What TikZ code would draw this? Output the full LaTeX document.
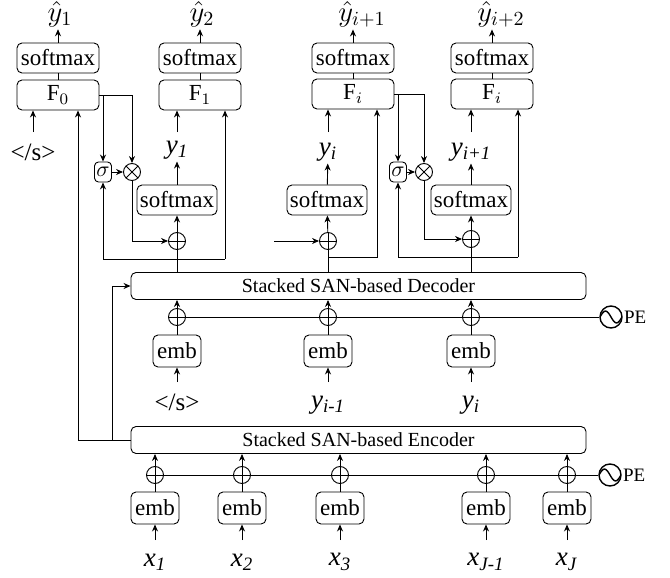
\documentclass[tikz,border=0pt]{standalone}
\usepackage{fontspec}
\setmainfont{Liberation Serif}
\usetikzlibrary{arrows.meta, calc, positioning}

\newcommand{\isub}[2]{\textit{#1}\textsubscript{\textit{#2}}}

\begin{document}
\begin{tikzpicture}[x=0.5pt, y=-0.5pt, line width=0.45pt, >={Stealth[length=3.5pt,width=3pt]},
  box/.style={draw, rounded corners=2.5pt, inner sep=0pt, font=\fontsize{11.5}{12}\selectfont},
  fbox/.style={box, minimum width=41pt, minimum height=15pt},
  sbox/.style={box, minimum width=40pt, minimum height=15pt},
  ebox/.style={box, minimum width=24pt, minimum height=16pt},
  gbox/.style={draw, rounded corners=2pt, inner sep=0pt, minimum width=8.5pt, minimum height=10pt, font=\fontsize{11}{12}\selectfont},
  wide/.style={box, minimum width=227.5pt, minimum height=13.5pt, font=\fontsize{10}{12}\selectfont},
  plus/.style={draw, circle, minimum size=8.5pt, inner sep=0pt,
    path picture={\draw (path picture bounding box.north) -- (path picture bounding box.south)
      (path picture bounding box.west) -- (path picture bounding box.east);}},
  mult/.style={draw, circle, minimum size=8.5pt, inner sep=0pt,
    path picture={\draw (path picture bounding box.north west) -- (path picture bounding box.south east)
      (path picture bounding box.south west) -- (path picture bounding box.north east);}},
  pesrc/.style={draw, circle, line width=0.7pt, minimum size=11pt, inner sep=0pt,
    path picture={\draw ([xshift=-5.5pt]path picture bounding box.center) sin ++(2.75pt,3pt) cos ++(2.75pt,-3pt) sin ++(2.75pt,-3pt) cos ++(2.75pt,3pt);}},
  lab/.style={inner sep=1pt, font=\fontsize{13.5}{14}\selectfont},
  hlab/.style={inner sep=1pt, font=\fontsize{14.5}{15}\selectfont},
  pelab/.style={inner sep=0.5pt, font=\fontsize{9.5}{10}\selectfont}]
\useasboundingbox (0,0) rectangle (670,578);

\node[hlab] (h0) at (60,14) {$\hat{y}_1$};
\node[hlab] (h1) at (202,14) {$\hat{y}_2$};
\node[hlab] (h2) at (362,14) {$\hat{y}_{i+1}$};
\node[hlab] (h3) at (501,14) {$\hat{y}_{i+2}$};
\node[fbox] (t0) at (58,58) {softmax};
\node[fbox] (t1) at (200,58) {softmax};
\node[fbox] (t2) at (353,58) {softmax};
\node[fbox] (t3) at (492,58) {softmax};
\node[fbox] (f0) at (58,95) {$\mathrm{F}_0$};
\node[fbox] (f1) at (200,95) {$\mathrm{F}_1$};
\node[fbox] (f2) at (353,94) {$\mathrm{F}_i$};
\node[fbox] (f3) at (492,94) {$\mathrm{F}_i$};

\node[lab, font=\fontsize{12.5}{13}\selectfont] (w0) at (33,152) {</s>};
\node[lab] (y1) at (177,150) {\isub{y}{1}};
\node[lab] (y2) at (328,152) {\isub{y}{i}};
\node[lab] (y3) at (471,152) {\isub{y}{i+1}};
\coordinate (c0) at (33,132);
\coordinate (c1) at (177,132);
\coordinate (c2) at (328,132);
\coordinate (c3) at (471,132);

\node[gbox] (g1) at (103,172) {$\sigma$};
\node[mult] (o1) at (132,172) {};
\node[gbox] (g2) at (398,172) {$\sigma$};
\node[mult] (o2) at (424,172) {};
\node[sbox] (n1) at (177,200) {softmax};
\node[sbox] (n2) at (327,200) {softmax};
\node[sbox] (n3) at (471,200) {softmax};
\node[plus] (a1) at (177,241) {};
\node[plus] (a2) at (328,241) {};
\node[plus] (a3) at (471,239) {};
\coordinate (v2) at (274,241);
\coordinate (l1) at (103,259);
\coordinate (r1) at (225,259);
\coordinate (l2) at (328,257);
\coordinate (r2) at (377,257);
\coordinate (l3) at (398,257);
\coordinate (r3) at (518,257);

\node[wide] (dec) at (358.5,286) {Stacked SAN-based Decoder};
\node[plus] (p1) at (177,317) {};
\node[plus] (p2) at (328,317) {};
\node[plus] (p3) at (471,317) {};
\node[pesrc] (pd) at (611,317) {};
\node[pelab, right=0pt of pd] (pdl) {PE};
\node[ebox] (e1) at (177,351) {emb};
\node[ebox] (e2) at (328,351) {emb};
\node[ebox] (e3) at (471,351) {emb};
\coordinate (u1) at (177,382);
\coordinate (u2) at (328,382);
\coordinate (u3) at (471,382);
\node[lab, font=\fontsize{12.5}{13}\selectfont] (w1) at (177,402) {</s>};
\node[lab] (w2) at (328,405) {\isub{y}{i-1}};
\node[lab] (w3) at (471,405) {\isub{y}{i}};

\node[wide] (enc) at (358.5,440) {Stacked SAN-based Encoder};
\coordinate (j0) at (78,440);
\coordinate (j1) at (112,440);
\node[plus] (q1) at (155,475) {};
\node[plus] (q2) at (242,475) {};
\node[plus] (q3) at (340,475) {};
\node[plus] (q4) at (486,475) {};
\node[plus] (q5) at (567,475) {};
\node[pesrc] (pn) at (610,475) {};
\node[pelab, right=0pt of pn] (pnl) {PE};
\node[ebox] (b1) at (155,508) {emb};
\node[ebox] (b2) at (242,508) {emb};
\node[ebox] (b3) at (340,508) {emb};
\node[ebox] (b4) at (486,508) {emb};
\node[ebox] (b5) at (567,508) {emb};
\coordinate (z1) at (155,540);
\coordinate (z2) at (242,540);
\coordinate (z3) at (340,540);
\coordinate (z4) at (486,540);
\coordinate (z5) at (567,540);
\node[lab] (x1) at (155,562) {\isub{x}{1}};
\node[lab] (x2) at (242,562) {\isub{x}{2}};
\node[lab] (x3) at (340,562) {\isub{x}{3}};
\node[lab] (x4) at (486,562) {\isub{x}{J-1}};
\node[lab] (x5) at (567,562) {\isub{x}{J}};

\draw[->] (t0) -- (t0 |- h0.south);
\draw[->] (t1) -- (t1 |- h1.south);
\draw[->] (t2) -- (t2 |- h2.south);
\draw[->] (t3) -- (t3 |- h3.south);
\draw (f0) -- (t0) (f1) -- (t1) (f2) -- (t2) (f3) -- (t3);
\draw[->] (c0) -- (c0 |- f0.south);
\draw[->] (c1) -- (c1 |- f1.south);
\draw[->] (c2) -- (c2 |- f2.south);
\draw[->] (c3) -- (c3 |- f3.south);

\draw[->] (f0.east) -| (o1.north);
\draw[->] (f0.east -| g1.north) -- (g1.north);
\draw[->] (g1) -- (o1);
\draw[->] (o1.south) |- (a1.west);
\draw[->] (a1) -- (n1);
\draw[->] (n1) -- (y1);
\draw (dec.north -| a1) -- (a1.south);
\draw (l1) -- (r1);
\draw[->] (l1) -- (g1.south);
\draw[->] (r1) -- (r1 |- f1.south);

\draw[->] (v2) -- (a2.west);
\draw[->] (a2) -- (n2);
\draw[->] (n2) -- (y2);
\draw (dec.north -| a2) -- (a2.south);
\draw[->] (l2) -- (r2) -- (r2 |- f2.south);

\draw[->] (f2.east) -| (o2.north);
\draw[->] (f2.east -| g2.north) -- (g2.north);
\draw[->] (g2) -- (o2);
\draw[->] (o2.south) |- (a3.west);
\draw[->] (a3) -- (n3);
\draw[->] (n3) -- (y3);
\draw (dec.north -| a3) -- (a3.south);
\draw (l3) -- (r3);
\draw[->] (l3) -- (g2.south);
\draw[->] (r3) -- (r3 |- f3.south);

\draw (p1.east) -- (pd.west);
\draw[->] (p1) -- (p1 |- dec.south);
\draw[->] (p2) -- (p2 |- dec.south);
\draw[->] (p3) -- (p3 |- dec.south);
\draw (e1) -- (p1) (e2) -- (p2) (e3) -- (p3);
\draw[->] (u1) -- (e1);
\draw[->] (u2) -- (e2);
\draw[->] (u3) -- (e3);

\draw[->] (enc.west) -- (j0) -- (j0 |- f0.south);
\draw[->] (j1) |- (dec.west);
\draw (q1.east) -- (pn.west);
\draw[->] (q1) -- (q1 |- enc.south);
\draw[->] (q2) -- (q2 |- enc.south);
\draw[->] (q3) -- (q3 |- enc.south);
\draw[->] (q4) -- (q4 |- enc.south);
\draw[->] (q5) -- (q5 |- enc.south);
\draw (b1) -- (q1) (b2) -- (q2) (b3) -- (q3) (b4) -- (q4) (b5) -- (q5);
\draw[->] (z1) -- (b1);
\draw[->] (z2) -- (b2);
\draw[->] (z3) -- (b3);
\draw[->] (z4) -- (b4);
\draw[->] (z5) -- (b5);
\end{tikzpicture}
\end{document}
